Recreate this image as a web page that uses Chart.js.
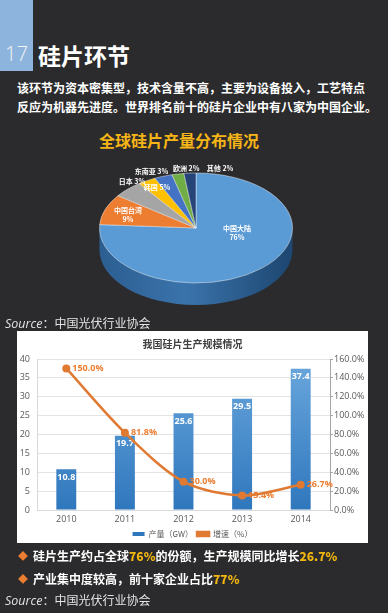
<!DOCTYPE html>
<html>
<head>
<meta charset="utf-8">
<script src="https://cdn.jsdelivr.net/npm/chart.js@4.4.0/dist/chart.umd.min.js"></script>
<style>
body { margin: 0; width: 388px; height: 613px; background: #2b2b2d; position: relative; overflow: hidden; font-family: "Noto Sans CJK SC", sans-serif; color: #fff; }
.abs { position: absolute; white-space: nowrap; }
#badge { left: 0; top: 0; width: 33px; height: 71px; background: #8db4dd; }
#num { left: 5px; top: 40px; font: 300 20px/28px "Open Sans", sans-serif; color: #f4f4f4; }
#title { left: 38px; top: 40px; font: 700 23px/30px "Noto Sans CJK SC"; color: #fff; }
.body { left: 17px; font: 700 12px/16px "Noto Sans CJK SC"; }
#pieTitle { left: 0; width: 358px; text-align: center; top: 130px; font: 700 16px/20px "Noto Sans CJK SC"; color: #f6b517; }
.src { left: 5px; font: 400 12px/16px "Noto Sans CJK SC"; color: #e4e4e4; }
.src i { font: italic 400 12.5px "Open Sans", sans-serif; }
#pieCanvas { position: absolute; left: 0; top: 128px; }
#panel { left: 17px; top: 331px; width: 351px; height: 212px; background: #fff; }
#barCanvas { position: absolute; left: 17px; top: 331px; }
.dot { left: 18px; font: 10px/16px "Noto Sans CJK SC"; color: #ed7d31; }
.point { left: 33px; font: 700 12px/16px "Noto Sans CJK SC"; }
.point b { color: #f2b70f; }
</style>
</head>
<body>
<div class="abs" id="badge"></div>
<div class="abs" id="num">17</div>
<div class="abs" id="title">硅片环节</div>
<div class="abs body" style="top:80px">该环节为资本密集型，技术含量不高，主要为设备投入，工艺特点</div>
<div class="abs body" style="top:99px">反应为机器先进度。世界排名前十的硅片企业中有八家为中国企业。</div>
<div class="abs" id="pieTitle">全球硅片产量分布情况</div>
<canvas id="pieCanvas" width="388" height="200"></canvas>
<div class="abs src" style="top:315px"><i>Source</i>：中国光伏行业协会</div>
<div class="abs" id="panel"></div>
<canvas id="barCanvas" width="351" height="217"></canvas>
<div class="abs dot" style="top:548px">◆</div>
<div class="abs point" style="top:548px">硅片生产约占全球<b>76%</b>的份额，生产规模同比增长<b>26.7%</b></div>
<div class="abs dot" style="top:571px">◆</div>
<div class="abs point" style="top:571px">产业集中度较高，前十家企业占比<b>77%</b></div>
<div class="abs src" style="top:592px"><i>Source</i>：中国光伏行业协会</div>

<script>
// pie: global wafer output share
const pieLabels = ['中国大陆', '中国台湾', '韩国', '日本', '东南亚', '欧洲', '其他'];
const pieShares = [76, 9, 5, 3, 3, 2, 2];
const pieColors = ['#5b9bd5', '#ed7d31', '#a5a5a5', '#ffc000', '#4472c4', '#70ad47', '#264478'];

// bar + line: China wafer output
const years = ['2010', '2011', '2012', '2013', '2014'];
const outputGW = [10.8, 19.7, 25.6, 29.5, 37.4];
const growthPct = [150.0, 81.8, 30.0, 15.4, 26.7];

// label placement around the pie: [radius factor, dx, dy]
const PIE_LABEL_SPOT = [[0.62, 0, -20], [0.75, 0, 1], [0.6, 2, -17], [1.15, -7.5, 7.5], [1.15, -7, 2.5], [1.15, 11, 2], [1.15, 31, 3]];
const FACE_Y = 100;
const SQUASH = 0.57;
const DEPTH = 22;

const pie3d = {
  id: 'pie3d',
  beforeDatasetsDraw(chart) {
    const arc = chart.getDatasetMeta(0).data[0];
    const ctx = chart.ctx;
    const r = arc.outerRadius;
    ctx.save();
    ctx.translate(arc.x, FACE_Y);
    ctx.scale(1, SQUASH);
    const d = DEPTH / SQUASH;
    const side = ctx.createLinearGradient(-r, 0, r, 0);
    side.addColorStop(0, '#2c5e91');
    side.addColorStop(0.45, '#3a73ab');
    side.addColorStop(1, '#1d4670');
    ctx.fillStyle = side;
    ctx.beginPath();
    ctx.arc(0, 0, r, 0, Math.PI);
    ctx.arc(0, d, r, Math.PI, 0, true);
    ctx.closePath();
    ctx.fill();
    ctx.translate(-arc.x, -arc.y);
  },
  afterDatasetsDraw(chart) {
    const ctx = chart.ctx;
    ctx.restore();
    const meta = chart.getDatasetMeta(0);
    ctx.save();
    ctx.font = 'bold 7px "Noto Sans CJK SC"';
    ctx.fillStyle = '#fff';
    ctx.textAlign = 'center';
    ctx.textBaseline = 'middle';
    meta.data.forEach((a, i) => {
      const mid = (a.startAngle + a.endAngle) / 2;
      const [f, dx, dy] = PIE_LABEL_SPOT[i];
      const x = a.x + Math.cos(mid) * a.outerRadius * f + dx;
      const y = FACE_Y + Math.sin(mid) * a.outerRadius * f * SQUASH + dy;
      if (i < 2) {
        ctx.fillText(pieLabels[i], x, y - 4.5);
        ctx.fillText(pieShares[i] + '%', x, y + 4.5);
      } else {
        ctx.fillText(pieLabels[i] + ' ' + pieShares[i] + '%', x, y);
      }
    });
    ctx.restore();
  }
};

new Chart(document.getElementById('pieCanvas'), {
  type: 'pie',
  data: {
    labels: pieLabels,
    datasets: [{
      data: pieShares,
      backgroundColor: pieColors,
      borderColor: 'rgba(255,255,255,0.55)',
      borderWidth: 1
    }]
  },
  options: {
    responsive: false,
    animation: false,
    events: [],
    layout: { padding: { left: 4, top: 3, bottom: 3 } },
    plugins: { legend: { display: false }, tooltip: { enabled: false } }
  },
  plugins: [pie3d]
});

const valueLabels = {
  id: 'valueLabels',
  afterDatasetDraw(chart, args) {
    if (args.index !== 0) return;
    const ctx = chart.ctx;
    ctx.save();
    ctx.font = 'bold 9px "Open Sans"';
    ctx.textBaseline = 'middle';
    ctx.textAlign = 'center';
    ctx.fillStyle = '#fff';
    chart.getDatasetMeta(0).data.forEach((bar, i) => {
      ctx.fillText(outputGW[i].toFixed(1), bar.x, bar.y + 8);
    });
    ctx.textAlign = 'left';
    ctx.fillStyle = '#ed7d31';
    chart.getDatasetMeta(1).data.forEach((pt, i) => {
      ctx.fillText(growthPct[i].toFixed(1) + '%', pt.x + 6, pt.y);
    });
    ctx.restore();
  }
};

const cjk = '"Noto Sans CJK SC", sans-serif';

new Chart(document.getElementById('barCanvas'), {
  type: 'bar',
  data: {
    labels: years,
    datasets: [{
      label: '产量（GW）',
      data: outputGW,
      yAxisID: 'y',
      order: 2,
      categoryPercentage: 1,
      barPercentage: 0.34,
      backgroundColor(c) {
        const area = c.chart.chartArea;
        if (!area) return '#4a8ccc';
        const g = c.chart.ctx.createLinearGradient(0, area.top, 0, area.bottom);
        g.addColorStop(0, '#6aa7dd');
        g.addColorStop(1, '#2f77bd');
        return g;
      }
    }, {
      type: 'line',
      label: '增速（%）',
      data: growthPct,
      yAxisID: 'y1',
      order: 1,
      borderColor: '#e07a32',
      backgroundColor: '#e07a32',
      borderWidth: 2.5,
      tension: 0.3,
      pointRadius: 4,
      pointBackgroundColor: '#e07a32',
      pointBorderWidth: 0
    }]
  },
  options: {
    responsive: false,
    animation: false,
    events: [],
    layout: { padding: 0 },
    plugins: {
      tooltip: { enabled: false },
      title: {
        display: true,
        text: '我国硅片生产规模情况',
        color: '#404040',
        font: { family: cjk, size: 10, weight: 'bold' },
        padding: { top: 7, bottom: 9 }
      },
      legend: {
        position: 'bottom',
        labels: {
          boxWidth: 12,
          boxHeight: 4,
          padding: 4,
          color: '#595959',
          font: { family: cjk, size: 8 },
          sort: (a, b) => a.datasetIndex - b.datasetIndex
        }
      }
    },
    scales: {
      x: {
        grid: { display: false, drawTicks: false },
        border: { color: '#d9d9d9' },
        ticks: { color: '#595959', font: { family: 'Open Sans', size: 9 }, padding: 4 },
        afterFit(s) { s.height = 16; }
      },
      y: {
        position: 'left',
        min: 0,
        max: 40,
        ticks: { stepSize: 5, color: '#595959', font: { family: 'Open Sans', size: 9 }, padding: 7 },
        grid: { color: '#e3e3e3', drawTicks: false },
        border: { color: '#d9d9d9' },
        afterFit(s) { s.width = 20; }
      },
      y1: {
        position: 'right',
        min: 0,
        max: 160,
        ticks: {
          stepSize: 20,
          color: '#595959',
          font: { family: 'Open Sans', size: 9 },
          padding: 1,
          callback: v => v.toFixed(1) + '%'
        },
        grid: { drawOnChartArea: false, drawTicks: true, tickLength: 3, color: '#a6a6a6' },
        border: { color: '#a6a6a6' },
        afterFit(s) { s.width = 38; }
      }
    }
  },
  plugins: [valueLabels]
});
</script>
</body>
</html>
